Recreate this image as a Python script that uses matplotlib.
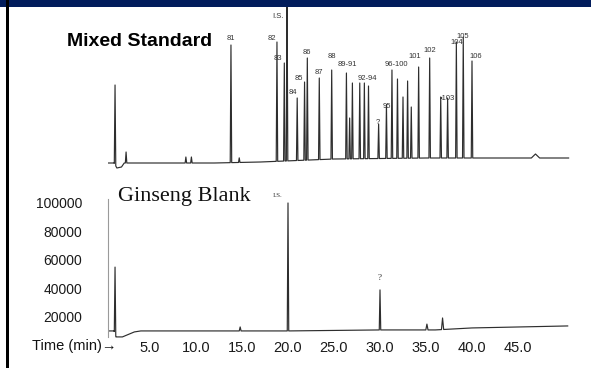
import numpy as np
import matplotlib
matplotlib.use("Agg")
import matplotlib.pyplot as plt
from matplotlib.patches import Rectangle

# ---------------- data ----------------
# Mixed standard chromatogram (time in min, response in counts)
std_peak_times = [1.2, 2.4, 8.9, 9.5, 13.8, 14.7, 18.8, 19.6, 19.9, 21.0, 21.8, 22.1,
                  23.4, 24.75, 26.35, 26.7, 27.0, 27.8, 28.3, 28.75, 29.85, 30.7,
                  31.3, 31.9, 32.5, 33.0, 33.4, 34.2, 35.4, 36.6, 37.35, 38.3, 39.05,
                  40.0, 46.9]
std_peak_heights = [63000, 16100, 12600, 12600, 91000, 12000, 93100, 78400, 125000,
                    53900, 65100, 81900, 67900, 73500, 71400, 39900, 64400, 64400,
                    64400, 62300, 35700, 49000, 73500, 67200, 54600, 65800, 47600,
                    75600, 81900, 54600, 53900, 93100, 96600, 79800, 14700]
std_peak_widths = [0.08] * 34 + [0.45]
std_base_times = [0.33, 1.1, 1.4, 1.9, 2.2, 12.0, 17.0, 25.0, 35.0, 50.5]
std_base_values = [8400, 8400, 4900, 5600, 8400, 8400, 9100, 11200, 11900, 11900]
std_labels = ["81", "82", "83", "I.S.", "84", "85", "86", "87", "88", "89-91",
              "92-94", "?", "95", "96-100", "101", "102", "\u2022103", "104", "105", "106"]
std_label_times = [13.8, 18.2, 18.9, 18.9, 20.5, 21.2, 22.0, 23.4, 24.8, 26.5,
                   28.6, 29.75, 30.7, 31.8, 33.8, 35.4, 37.3, 38.3, 39.0, 40.4]
std_label_values = [95200, 95900, 81900, 110600, 57400, 67200, 86100, 72100, 82600,
                    77700, 67900, 36400, 48300, 77700, 82600, 87500, 53900, 92400,
                    97300, 82600]

# Ginseng blank chromatogram
blank_peak_times = [1.2, 14.8, 20.0, 30.0, 35.1, 36.8]
blank_peak_heights = [55000, 13000, 100000, 39000, 15000, 19300]
blank_peak_widths = [0.08, 0.1, 0.08, 0.08, 0.12, 0.12]
blank_base_times = [0.43, 1.1, 1.3, 2.0, 3.3, 4.0, 20.0, 30.0, 36.0, 40.0, 50.4]
blank_base_values = [10200, 10200, 6000, 6000, 9500, 10200, 10200, 10900, 10900, 12300, 13700]
blank_labels = ["I.S.", "?"]
blank_label_times = [18.9, 29.9]
blank_label_values = [104900, 47400]

y_ticks = [20000, 40000, 60000, 80000, 100000]
y_tick_labels = ["20000", "40000", "60000", "80000", "100000"]
x_ticks = [5, 10, 15, 20, 25, 30, 35, 40, 45]
x_tick_labels = ["5.0", "10.0", "15.0", "20.0", "25.0", "30.0", "35.0", "40.0", "45.0"]


def build_trace(bt, bv, pt, ph, pw):
    bt = np.asarray(bt, float)
    bv = np.asarray(bv, float)
    xs, ys = [], []
    for t, v in zip(bt, bv):
        if not any(abs(t - p) <= w for p, w in zip(pt, pw)):
            xs.append(t)
            ys.append(v)
    for t, h, w in zip(pt, ph, pw):
        for dt in (-w, w):
            xs.append(t + dt)
            ys.append(np.interp(t + dt, bt, bv))
        xs.append(t)
        ys.append(h)
    xs = np.asarray(xs)
    ys = np.asarray(ys)
    order = np.argsort(xs, kind="stable")
    return xs[order], ys[order]


W, H = 591, 368
fig = plt.figure(figsize=(W / 100, H / 100), dpi=100)
fig.patch.set_facecolor("white")

# decorations: navy band at top, black bar at left
fig.add_artist(Rectangle((0, 1 - 7 / H), 1, 7 / H, transform=fig.transFigure,
                         facecolor="#021d5c", edgecolor="none", zorder=10))
fig.add_artist(Rectangle((6 / W, 0), 3 / W, 1, transform=fig.transFigure,
                         facecolor="black", edgecolor="none", zorder=10))

XL = (0.43, 52.0)
px_per_min = 9.2
ax_left = (104 + XL[0] * px_per_min) / W
ax_width = (XL[1] - XL[0]) * px_per_min / W

line_kw = dict(color="#2e2e2e", lw=0.85)

# ---- top: mixed standard ----
ax1 = fig.add_axes([ax_left, (H - 175) / H, ax_width, 168 / H])
x, y = build_trace(std_base_times, std_base_values, std_peak_times,
                   std_peak_heights, std_peak_widths)
ax1.plot(x, y, **line_kw)
ax1.set_xlim(*XL)
ax1.set_ylim(0, 168 * 700)
ax1.axis("off")
for lab, t, v in zip(std_labels, std_label_times, std_label_values):
    ax1.text(t, v, lab, fontsize=5.5, ha="center", va="center",
             color="#333333", family=["Liberation Sans", "DejaVu Sans"])

fig.text(67 / W, 1 - 42 / H, "Mixed Standard", fontsize=14, fontweight="bold",
         family="Liberation Sans", ha="left", va="center", color="black")

# ---- bottom: ginseng blank ----
ylo, yhi = 4500, 109100
hpx = (yhi - ylo) / 701.75
ax2 = fig.add_axes([ax_left, (H - 190 - hpx) / H, ax_width, hpx / H])
x, y = build_trace(blank_base_times, blank_base_values, blank_peak_times,
                   blank_peak_heights, blank_peak_widths)
ax2.plot(x, y, **line_kw)
ax2.set_xlim(*XL)
ax2.set_ylim(ylo, yhi)
for s in ["top", "right", "bottom"]:
    ax2.spines[s].set_visible(False)
ax2.spines["left"].set_color("#9a9a9a")
ax2.spines["left"].set_linewidth(0.8)
ax2.spines["left"].set_bounds(6000, 103000)
ax2.set_yticks(y_ticks)
ax2.set_yticklabels(y_tick_labels, family="Liberation Sans", fontsize=10, color="#1a1a1a")
ax2.set_xticks(x_ticks)
ax2.set_xticklabels(x_tick_labels, family="Liberation Sans", fontsize=10.5, color="#1a1a1a")
ax2.tick_params(axis="y", length=0, pad=18.7)
ax2.tick_params(axis="x", length=0, pad=1.5)
ax2.set_facecolor("none")
for lab, t, v in zip(blank_labels, blank_label_times, blank_label_values):
    ax2.text(t, v, lab, fontsize=5 if lab == "I.S." else 6.5, ha="center", va="center",
             color="#333333", family="Liberation Serif")

fig.text(118 / W, 1 - 196 / H, "Ginseng Blank", fontsize=16, family="Liberation Serif",
         ha="left", va="center", color="#111111")
fig.text(32 / W, 1 - 346 / H, "Time (min)\u2192", fontsize=10.5,
         family=["Liberation Sans", "DejaVu Sans"], ha="left", va="center", color="#111111")

fig.savefig("out.png", dpi=100, facecolor="white")
